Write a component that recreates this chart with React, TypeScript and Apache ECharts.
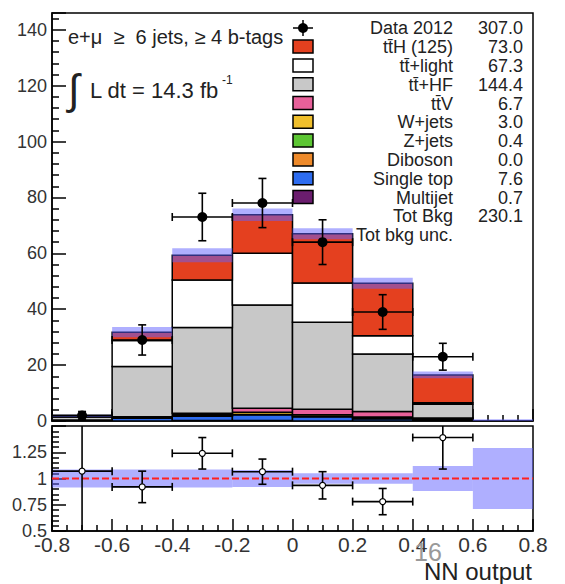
import React, { useEffect, useRef } from 'react';
import * as echarts from 'echarts';

// ---------- data ----------
const binEdges = [-0.8, -0.6, -0.4, -0.2, 0, 0.2, 0.4, 0.6, 0.8];
// stack components (bottom to top)
const multijet = [0.3, 0, 0.2, 0.2, 0, 0, 0, 0];
const singleTop = [0.1, 1.0, 1.5, 2.0, 1.5, 0.8, 0.3, 0];
const diboson = [0, 0, 0, 0, 0, 0, 0, 0];
const zjets = [0, 0, 0.1, 0.1, 0.1, 0.1, 0, 0];
const wjets = [0, 0.3, 0.5, 0.8, 0.6, 0.5, 0.3, 0];
const ttV = [0, 0.2, 0.5, 1.5, 2.0, 2.0, 0.5, 0];
const ttHF = [1.05, 18.0, 30.7, 36.9, 31.1, 20.6, 4.9, 0];
const ttLight = [0.3, 9.3, 17.0, 18.5, 14.1, 6.5, 0.5, 0];
const ttH = [0.1, 3.0, 8.8, 13.8, 17.6, 18.8, 10.0, 0];
const mainUnc = [0.4, 1.8, 2.5, 2.2, 2.0, 2.0, 1.2, 0.6];

const dataX = [-0.7, -0.5, -0.3, -0.1, 0.1, 0.3, 0.5];
const dataY = [2, 29, 73, 78, 64, 39, 23];
const dataErr = [1.4, 5.4, 8.5, 8.8, 8.0, 6.2, 4.8];

const ratioY = [1.07, 0.92, 1.24, 1.065, 0.935, 0.78, 1.39];
const ratioErr = [0.6, 0.15, 0.15, 0.12, 0.13, 0.125, 0.3];
const ratioUnc = [0.085, 0.085, 0.085, 0.08, 0.05, 0.05, 0.12, 0.29];

const legendNames = [
  'Data 2012', 'tt\u0304H (125)', 'tt\u0304+light', 'tt\u0304+HF', 'tt\u0304V', 'W+jets',
  'Z+jets', 'Diboson', 'Single top', 'Multijet', 'Tot Bkg', 'Tot bkg unc.',
];
const legendValues = ['307.0', '73.0', '67.3', '144.4', '6.7', '3.0', '0.4', '0.0', '7.6', '0.7', '230.1', ''];

const colors = {
  ttH: '#e4401f',
  ttLight: '#ffffff',
  ttHF: '#c8c8c8',
  ttV: '#e8609a',
  wjets: '#f0bf2c',
  zjets: '#5cc633',
  diboson: '#ee8a2a',
  singleTop: '#2d6cf0',
  multijet: '#6b1d6e',
};
const legendColors = [null, colors.ttH, colors.ttLight, colors.ttHF, colors.ttV, colors.wjets,
  colors.zjets, colors.diboson, colors.singleTop, colors.multijet, null, null];

const FONT = '"Liberation Sans", Arial, Helvetica, sans-serif';

export default function App() {
  const ref = useRef<HTMLDivElement>(null);
  useEffect(() => {
    if (!ref.current) return;
    const chart = echarts.init(ref.current, null, { renderer: 'svg' });

    const comps = [
      { name: 'Multijet', v: multijet, c: colors.multijet },
      { name: 'Single top', v: singleTop, c: colors.singleTop },
      { name: 'Diboson', v: diboson, c: colors.diboson },
      { name: 'Z+jets', v: zjets, c: colors.zjets },
      { name: 'W+jets', v: wjets, c: colors.wjets },
      { name: 'ttV', v: ttV, c: colors.ttV },
      { name: 'tt+HF', v: ttHF, c: colors.ttHF },
      { name: 'tt+light', v: ttLight, c: colors.ttLight },
      { name: 'ttH', v: ttH, c: colors.ttH },
    ];
    const nb = binEdges.length - 1;
    const cum = new Array(nb).fill(0);
    const rectSeries: any[] = [];
    comps.forEach((comp, k) => {
      const data: number[][] = [];
      for (let i = 0; i < nb; i++) {
        const b = cum[i];
        const t = b + comp.v[i];
        cum[i] = t;
        data.push([binEdges[i], binEdges[i + 1], b, t]);
      }
      rectSeries.push({
        type: 'custom',
        name: comp.name,
        xAxisIndex: 0,
        yAxisIndex: 0,
        clip: true,
        z: 2 + k * 0.01,
        data,
        renderItem: (params: any, api: any) => {
          const y0 = api.value(2);
          const y1 = api.value(3);
          if (y1 - y0 <= 0) return null;
          const p0 = api.coord([api.value(0), y1]);
          const p1 = api.coord([api.value(1), y0]);
          return {
            type: 'rect',
            shape: { x: p0[0], y: p0[1], width: p1[0] - p0[0], height: p1[1] - p0[1] },
            style: { fill: comp.c, stroke: '#000', lineWidth: 1.5 },
          };
        },
      });
    });

    const bandRender = (params: any, api: any) => {
      const p0 = api.coord([api.value(0), api.value(3)]);
      const p1 = api.coord([api.value(1), api.value(2)]);
      return {
        type: 'rect',
        shape: { x: p0[0], y: p0[1], width: p1[0] - p0[0], height: p1[1] - p0[1] },
        style: { fill: 'rgba(95,95,255,0.5)', stroke: 'none' },
      };
    };
    const mainBand = cum.map((t, i) => [binEdges[i], binEdges[i + 1], Math.max(0, t - mainUnc[i]), t + mainUnc[i]]);
    const ratioBand = ratioUnc.map((u, i) => [binEdges[i], binEdges[i + 1], 1 - u, 1 + u]);

    const errRender = (open: boolean) => (params: any, api: any) => {
      const x = api.value(0);
      const y = api.value(1);
      const e = api.value(2);
      const c = api.coord([x, y]);
      const l = api.coord([x - 0.1, y]);
      const r = api.coord([x + 0.1, y]);
      const t = api.coord([x, y + e]);
      const b = api.coord([x, y - e]);
      const ls = { stroke: '#000', lineWidth: 1.6 };
      const cap = 4;
      return {
        type: 'group',
        children: [
          { type: 'line', shape: { x1: l[0], y1: c[1], x2: r[0], y2: c[1] }, style: ls },
          { type: 'line', shape: { x1: l[0], y1: c[1] - cap, x2: l[0], y2: c[1] + cap }, style: ls },
          { type: 'line', shape: { x1: r[0], y1: c[1] - cap, x2: r[0], y2: c[1] + cap }, style: ls },
          { type: 'line', shape: { x1: c[0], y1: t[1], x2: c[0], y2: b[1] }, style: ls },
          { type: 'line', shape: { x1: c[0] - cap, y1: t[1], x2: c[0] + cap, y2: t[1] }, style: ls },
          { type: 'line', shape: { x1: c[0] - cap, y1: b[1], x2: c[0] + cap, y2: b[1] }, style: ls },
          {
            type: 'circle',
            shape: { cx: c[0], cy: c[1], r: open ? 3 : 5 },
            style: open ? { fill: '#fff', stroke: '#000', lineWidth: 1.2 } : { fill: '#000' },
          },
        ],
      };
    };

    const axisLabelStyle = { color: '#333', fontFamily: FONT };

    const legendGraphics: any[] = [];
    legendNames.forEach((n, i) => {
      const y = 28.3 + i * 18.8;
      legendGraphics.push({
        type: 'text', x: 453, y, z: 100,
        style: { text: n, fill: '#222', font: `18px ${FONT}`, textAlign: 'right', textVerticalAlign: 'middle' },
      });
      if (legendValues[i]) {
        legendGraphics.push({
          type: 'text', x: 523, y, z: 100,
          style: { text: legendValues[i], fill: '#222', font: `18px ${FONT}`, textAlign: 'right', textVerticalAlign: 'middle' },
        });
      }
      const c = legendColors[i];
      if (c) {
        legendGraphics.push({
          type: 'rect', shape: { x: 293, y: y - 7, width: 20, height: 13 },
          style: { fill: c, stroke: '#000', lineWidth: 1.5 }, z: 100,
        });
      }
    });
    // data legend marker
    legendGraphics.push(
      { type: 'line', shape: { x1: 303, y1: 20, x2: 303, y2: 36 }, style: { stroke: '#000', lineWidth: 1.5 }, z: 100 },
      { type: 'line', shape: { x1: 293, y1: 28, x2: 313, y2: 28 }, style: { stroke: '#000', lineWidth: 1.5 }, z: 100 },
      { type: 'circle', shape: { cx: 303, cy: 28, r: 5 }, style: { fill: '#000' }, z: 100 },
    );

    const axLine = { onZero: false, lineStyle: { color: '#000', width: 1.5 } };

    const option: any = {
      animation: false,
      backgroundColor: '#fff',
      grid: [
        { left: 52, top: 13, width: 481, height: 408, show: true, borderColor: '#000', borderWidth: 1.5, backgroundColor: 'transparent' },
        { left: 52, top: 426, width: 481, height: 105, show: true, borderColor: '#000', borderWidth: 1.5, backgroundColor: 'transparent' },
      ],
      xAxis: [
        {
          type: 'value', gridIndex: 0, min: -0.8, max: 0.8, interval: 0.2,
          axisLine: axLine,
          axisTick: { inside: true, length: 12, lineStyle: { color: '#000', width: 1.5 } },
          minorTick: { show: true, splitNumber: 4, length: 6, lineStyle: { color: '#000', width: 1.5 } },
          axisLabel: { show: false },
          splitLine: { show: false },
        },
        {
          type: 'value', gridIndex: 1, min: -0.8, max: 0.8, interval: 0.2,
          axisLine: axLine,
          axisTick: { inside: true, length: 12, lineStyle: { color: '#000', width: 1.5 } },
          minorTick: { show: true, splitNumber: 4, length: 6, lineStyle: { color: '#000', width: 1.5 } },
          axisLabel: {
            ...axisLabelStyle, fontSize: 21, margin: 3,
            formatter: (v: number) => {
              const r = Math.round(v * 10) / 10;
              return r === 0 ? '0' : String(r);
            },
          },
          splitLine: { show: false },
        },
      ],
      yAxis: [
        {
          type: 'value', gridIndex: 0, min: 0, max: 146, interval: 20,
          axisLine: axLine,
          axisTick: { inside: true, length: 14, lineStyle: { color: '#000', width: 1.5 } },
          minorTick: { show: true, splitNumber: 5, length: 7, lineStyle: { color: '#000', width: 1.5 } },
          axisLabel: {
            ...axisLabelStyle, fontSize: 18, margin: 5,
            formatter: (v: number) => (Math.abs(v % 20) < 1e-6 ? String(v) : ''),
          },
          splitLine: { show: false },
        },
        {
          type: 'value', gridIndex: 1, min: 0.5, max: 1.5, interval: 0.25,
          axisLine: axLine,
          axisTick: { inside: true, length: 14, lineStyle: { color: '#000', width: 1.5 } },
          minorTick: { show: true, splitNumber: 5, length: 7, lineStyle: { color: '#000', width: 1.5 } },
          axisLabel: {
            ...axisLabelStyle, fontSize: 18, margin: 5,
            formatter: (v: number) => (v >= 1.49 ? '' : String(v)),
          },
          splitLine: { show: false },
        },
      ],
      series: [
        ...rectSeries,
        {
          type: 'custom', name: 'band', xAxisIndex: 0, yAxisIndex: 0, clip: true, z: 3,
          data: mainBand, renderItem: bandRender,
        },
        {
          type: 'custom', name: 'data', xAxisIndex: 0, yAxisIndex: 0, clip: true, z: 5,
          data: dataX.map((x, i) => [x, dataY[i], dataErr[i]]), renderItem: errRender(false),
        },
        {
          type: 'custom', name: 'ratioBand', xAxisIndex: 1, yAxisIndex: 1, clip: true, z: 3,
          data: ratioBand, renderItem: bandRender,
        },
        {
          type: 'line', name: 'unity', xAxisIndex: 1, yAxisIndex: 1, z: 4,
          data: [[-0.8, 1], [0.8, 1]], symbol: 'none',
          lineStyle: { color: '#ff2020', width: 2, type: [7, 3] },
        },
        {
          type: 'custom', name: 'ratio', xAxisIndex: 1, yAxisIndex: 1, clip: true, z: 5,
          data: dataX.map((x, i) => [x, ratioY[i], ratioErr[i]]), renderItem: errRender(true),
        },
      ],
      graphic: [
        ...legendGraphics,
        {
          type: 'text', x: 68, y: 37, z: 99,
          style: { text: 'e+\u03bc  \u2265  6 jets, \u2265 4 b-tags', fill: '#222', font: `20px ${FONT}`, textVerticalAlign: 'middle' },
        },
        {
          type: 'text', x: 68, y: 89, z: 100,
          style: { text: '\u222b', fill: '#222', font: `42px ${FONT}`, textVerticalAlign: 'middle' },
        },
        {
          type: 'text', x: 90, y: 90, z: 100,
          style: { text: 'L dt = 14.3 fb', fill: '#222', font: `22px ${FONT}`, textVerticalAlign: 'middle' },
        },
        {
          type: 'text', x: 222, y: 80, z: 100,
          style: { text: '-1', fill: '#222', font: `12px ${FONT}`, textVerticalAlign: 'middle' },
        },
        {
          type: 'text', x: 532, y: 571, z: 100,
          style: { text: 'NN output', fill: '#222', font: `24px ${FONT}`, textAlign: 'right', textVerticalAlign: 'middle' },
        },
        {
          type: 'text', x: 428, y: 552, z: 101,
          style: { text: '16', fill: '#999', font: `25px ${FONT}`, textAlign: 'center', textVerticalAlign: 'middle' },
        },
      ],
    };
    chart.setOption(option);
    return () => chart.dispose();
  }, []);
  return <div ref={ref} style={{ width: 565, height: 584, position: 'absolute', left: 0, top: 0 }} />;
}
